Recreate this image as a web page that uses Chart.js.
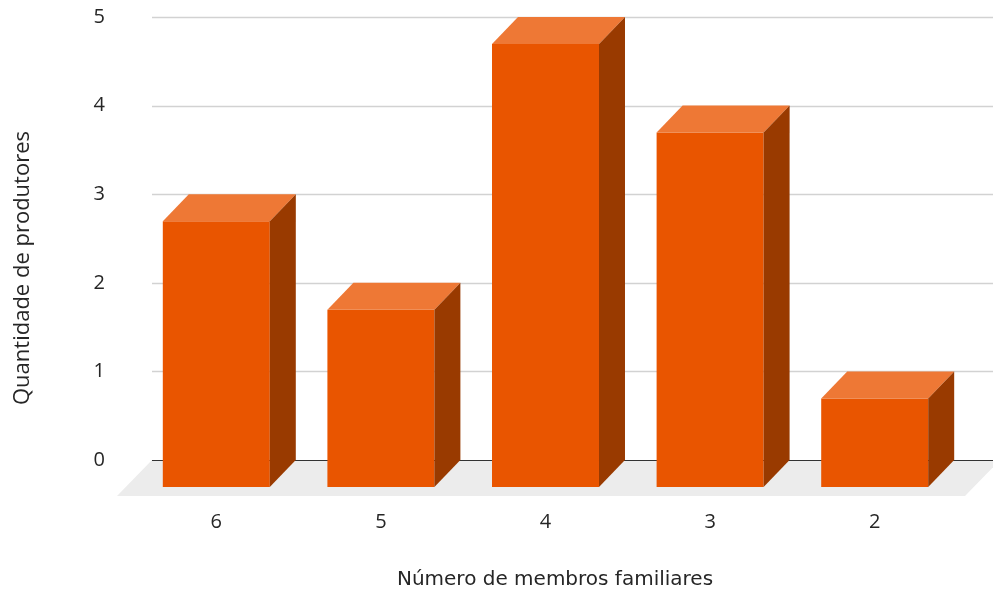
<!DOCTYPE html>
<html>
<head>
<meta charset="utf-8">
<script src="https://cdn.jsdelivr.net/npm/chart.js@4.4.0/dist/chart.umd.min.js"></script>
<style>
  html, body { margin: 0; padding: 0; background: #fff; }
</style>
</head>
<body>
<canvas id="myChart" width="993" height="594"></canvas>
<script>
var categorias = ['6', '5', '4', '3', '2']
var quantidades = [3, 2, 5, 4, 1]
var ticksY = [0, 1, 2, 3, 4, 5]

var tituloX = 'Número de membros familiares'
var tituloY = 'Quantidade de produtores'

var corFrente = '#e95500'
var corTopo = '#ee7835'
var corLado = '#993a00'
var prof = { x: 26, y: 27 }   // deslocamento da face de tras (efeito 3D)

// piso, linhas de grade, faces de topo/lado e titulos
var barras3d = {
  id: 'barras3d',
  beforeDatasetsDraw(chart) {
    var ctx = chart.ctx
    var area = chart.chartArea
    var y = chart.scales.y
    var esq = area.left - 8
    var dir = chart.width
    var zero = y.getPixelForValue(0)

    ctx.save()
    ctx.fillStyle = '#ececec'
    ctx.beginPath()
    ctx.moveTo(esq, zero)
    ctx.lineTo(dir + 7, zero)
    ctx.lineTo(dir + 7 - 35, zero + 36)
    ctx.lineTo(esq - 35, zero + 36)
    ctx.closePath()
    ctx.fill()

    ticksY.forEach(v => {
      var py = Math.round(y.getPixelForValue(v)) + 0.5
      ctx.beginPath()
      ctx.lineWidth = v === 0 ? 1.2 : 1.5
      ctx.strokeStyle = v === 0 ? '#333333' : '#d2d2d2'
      ctx.moveTo(esq, py)
      ctx.lineTo(dir, py)
      ctx.stroke()
    })
    ctx.restore()
  },
  beforeDatasetDraw(chart) {
    chart.ctx.save()
    chart.ctx.translate(-prof.x, prof.y)
  },
  afterDatasetDraw(chart, args) {
    var ctx = chart.ctx
    ctx.restore()
    ctx.save()
    args.meta.data.forEach(bar => {
      var p = bar.getProps(['x', 'y', 'base', 'width'], true)
      var l = p.x - p.width / 2
      var r = p.x + p.width / 2

      ctx.fillStyle = corTopo
      ctx.beginPath()
      ctx.moveTo(l - prof.x, p.y + prof.y)
      ctx.lineTo(r - prof.x, p.y + prof.y)
      ctx.lineTo(r, p.y)
      ctx.lineTo(l, p.y)
      ctx.closePath()
      ctx.fill()

      ctx.fillStyle = corLado
      ctx.beginPath()
      ctx.moveTo(r - prof.x, p.y + prof.y)
      ctx.lineTo(r, p.y)
      ctx.lineTo(r, p.base)
      ctx.lineTo(r - prof.x, p.base + prof.y)
      ctx.closePath()
      ctx.fill()
    })
    ctx.restore()
  },
  afterDraw(chart) {
    var ctx = chart.ctx
    ctx.save()
    ctx.fillStyle = '#262626'
    ctx.textAlign = 'center'
    ctx.textBaseline = 'middle'
    ctx.font = '20px "DejaVu Sans"'
    ctx.fillText(tituloX, 555, 580)

    ctx.translate(22.5, 268)
    ctx.rotate(-Math.PI / 2)
    ctx.font = '22px "Open Sans"'
    ctx.fillText(tituloY, 0, 0)
    ctx.restore()
  }
}

const ctx = document.getElementById('myChart')
new Chart(ctx, {
  type: 'bar',
  data: {
    labels: categorias,
    datasets: [{
      label: tituloY,
      data: quantidades,
      backgroundColor: corFrente,
      borderWidth: 0,
      categoryPercentage: 1,
      barPercentage: 0.65,
      clip: false
    }]
  },
  options: {
    responsive: false,
    animation: false,
    events: [],
    layout: { padding: { top: 17, right: 10, left: 0, bottom: 0 } },
    plugins: {
      legend: { display: false },
      tooltip: { enabled: false }
    },
    scales: {
      x: {
        grid: { display: false, drawTicks: false },
        border: { display: false },
        ticks: {
          color: '#262626',
          font: { family: 'Open Sans', size: 20 },
          padding: 50,
          labelOffset: -prof.x,
          maxRotation: 0
        },
        afterFit(scale) { scale.height = 134 }
      },
      y: {
        min: 0,
        max: 5,
        grid: { display: false, drawTicks: false },
        border: { display: false },
        ticks: {
          stepSize: 1,
          color: '#262626',
          font: { family: 'Open Sans', size: 20 },
          padding: 55
        },
        afterFit(scale) {
          scale.width = 160
          scale.paddingTop = 10
          scale.paddingBottom = 10
        }
      }
    }
  },
  plugins: [barras3d]
})
</script>
</body>
</html>
